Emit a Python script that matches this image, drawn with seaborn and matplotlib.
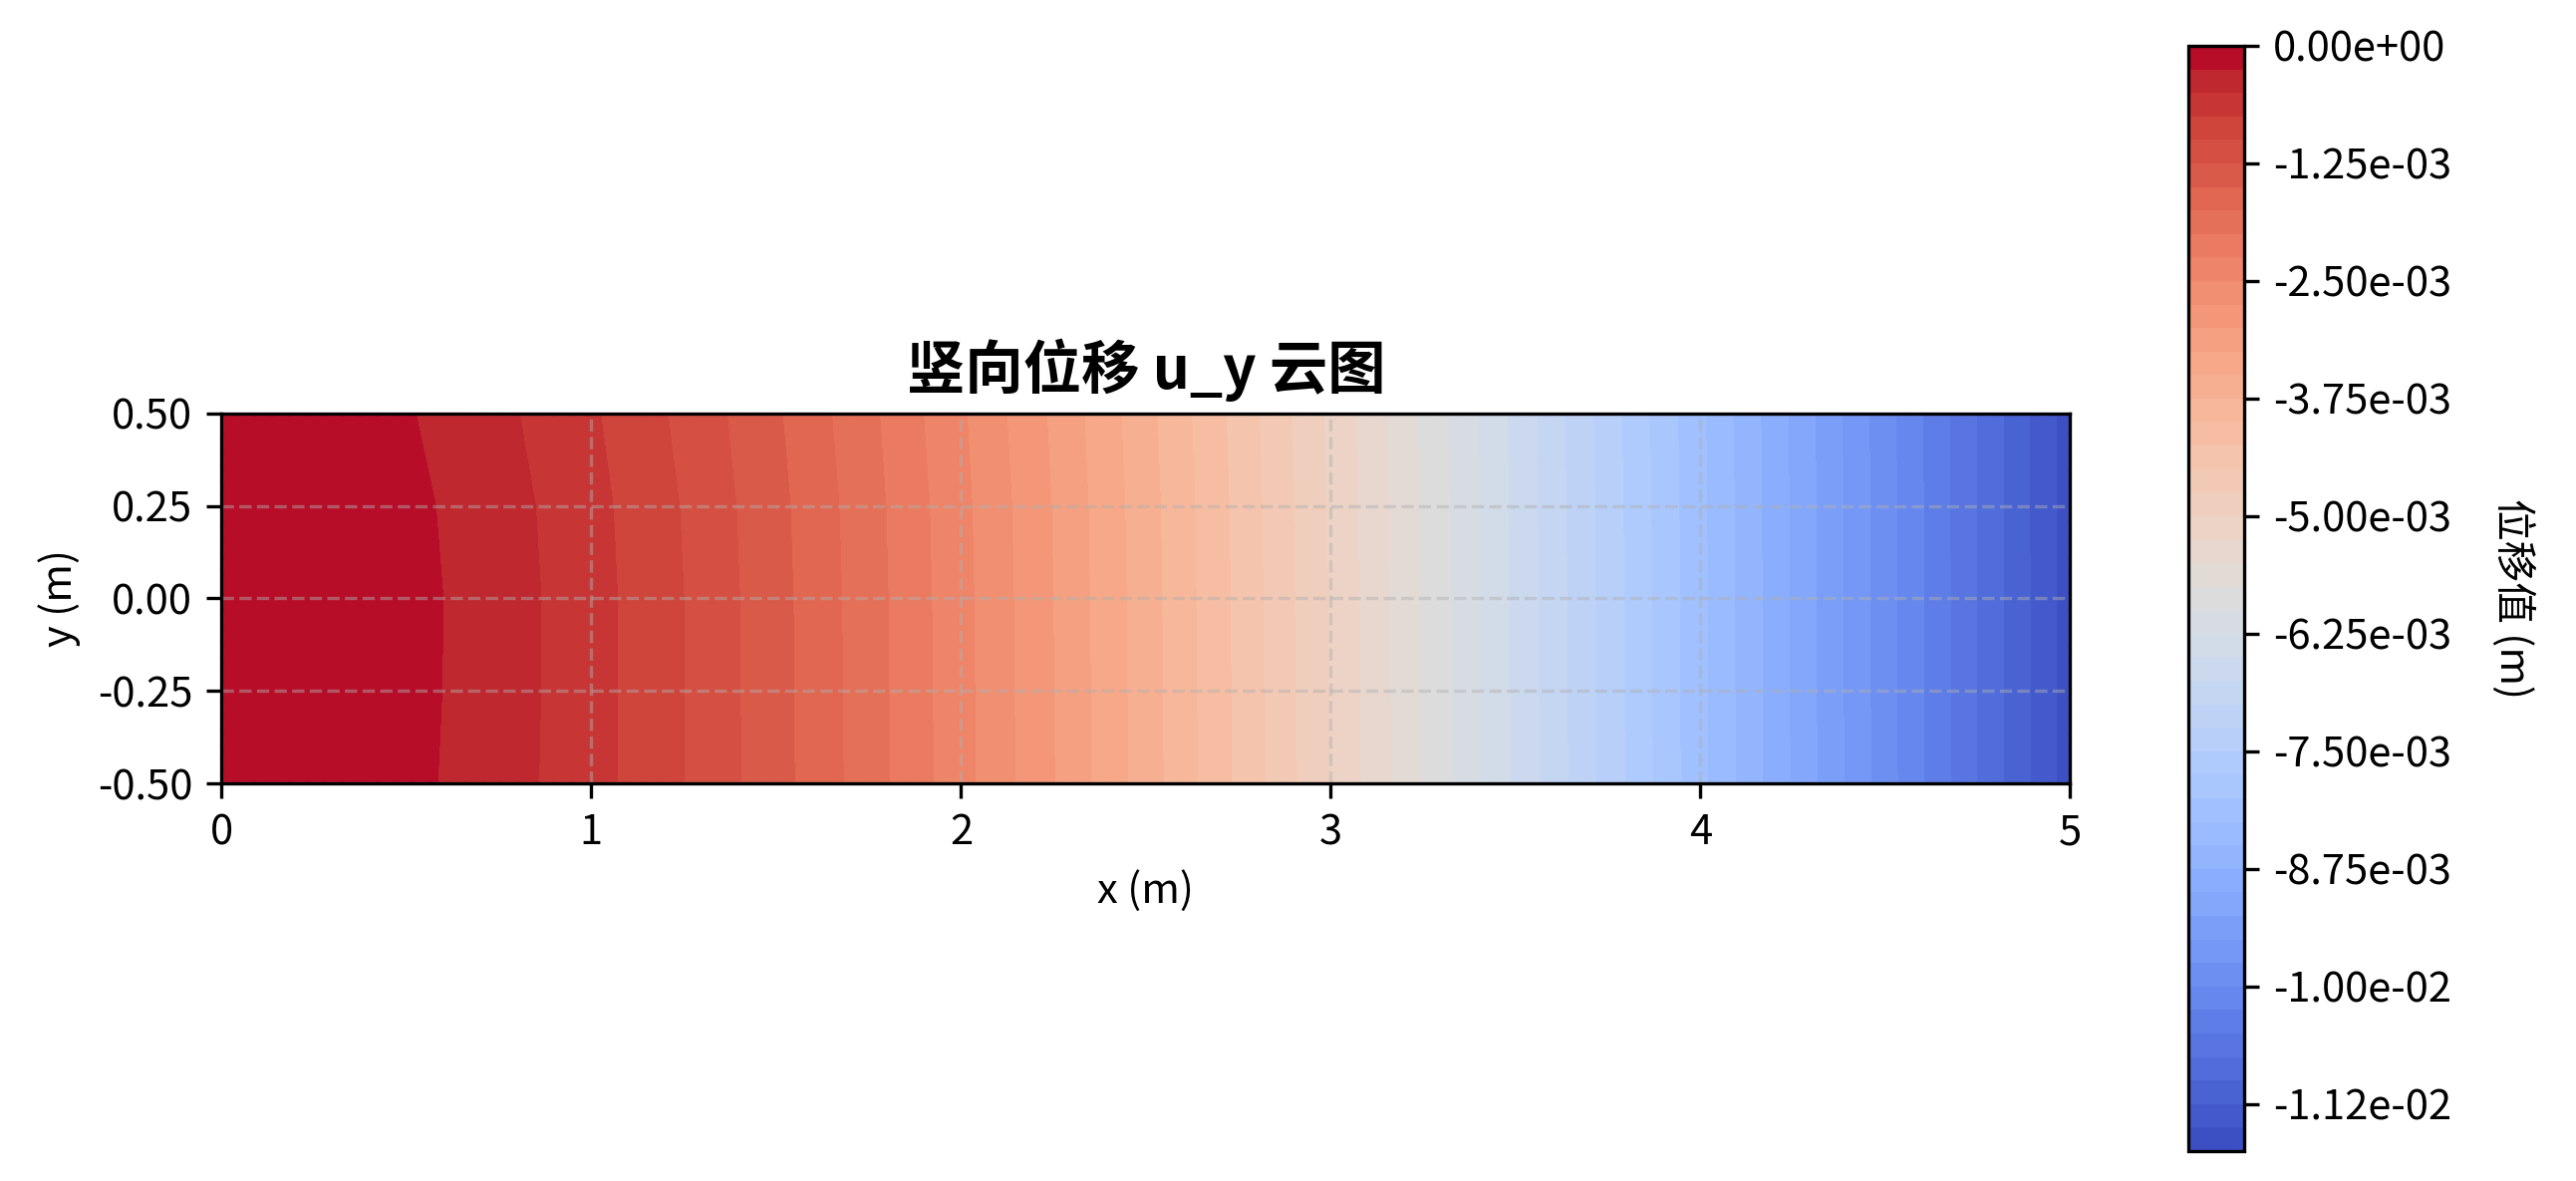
import numpy as np
import matplotlib
matplotlib.use('Agg')
import matplotlib.pyplot as plt
import seaborn as sns

# Sample points along the beam (m)
x_nodes = [0.0, 0.25, 0.5, 0.75, 1.0, 1.25, 1.5, 1.75, 2.0, 2.25, 2.5,
           2.75, 3.0, 3.25, 3.5, 3.75, 4.0, 4.25, 4.5, 4.75, 5.0]
y_nodes = [-0.5, -0.25, 0.0, 0.25, 0.5]

# Vertical displacement (mm), one row per y_nodes
uy_bottom = [0, -0.051, -0.182, -0.383, -0.655, -0.998, -1.407, -1.880, -2.409, -2.993, -3.624,
             -4.300, -5.014, -5.764, -6.546, -7.352, -8.182, -9.028, -9.887, -10.757, -11.630]
uy_lower = [0, -0.045, -0.172, -0.375, -0.651, -0.998, -1.410, -1.884, -2.414, -2.998, -3.629,
            -4.305, -5.019, -5.769, -6.550, -7.356, -8.185, -9.031, -9.889, -10.758, -11.630]
uy_center = [0, -0.043, -0.169, -0.373, -0.651, -1.000, -1.413, -1.888, -2.419, -3.003, -3.634,
             -4.310, -5.024, -5.774, -6.554, -7.360, -8.188, -9.033, -9.891, -10.759, -11.630]
uy_upper = [0, -0.053, -0.185, -0.390, -0.668, -1.016, -1.428, -1.901, -2.431, -3.013, -3.644,
            -4.318, -5.032, -5.781, -6.560, -7.365, -8.192, -9.036, -9.893, -10.760, -11.630]
uy_top = [0, -0.073, -0.229, -0.438, -0.716, -1.060, -1.468, -1.938, -2.464, -3.043, -3.669,
          -4.340, -5.054, -5.799, -6.574, -7.380, -8.203, -9.043, -9.901, -10.764, -11.630]

cbar_ticks = [0.0, -1.25e-3, -2.5e-3, -3.75e-3, -5.0e-3, -6.25e-3,
              -7.5e-3, -8.75e-3, -1.0e-2, -1.125e-2]

sns.set_style('ticks')
plt.rcParams['font.family'] = ['Noto Sans CJK SC', 'DejaVu Sans']
plt.rcParams['axes.unicode_minus'] = False
plt.rcParams['text.color'] = 'black'
plt.rcParams['axes.labelcolor'] = 'black'
plt.rcParams['xtick.color'] = 'black'
plt.rcParams['ytick.color'] = 'black'

X, Y = np.meshgrid(x_nodes, y_nodes)
U = np.array([uy_bottom, uy_lower, uy_center, uy_upper, uy_top]) * 1e-3

fig = plt.figure(figsize=(2585 / 300, 1185 / 300), dpi=300)
ax = fig.add_axes([0.0851, 0.3367, 0.7195, 0.3131])
cax = fig.add_axes([0.8494, 0.0253, 0.0217, 0.9359])

cs = ax.contourf(X, Y, U, levels=50, cmap='coolwarm')
ax.set_aspect('equal')
ax.set_xlim(0, 5)
ax.set_ylim(-0.5, 0.5)
ax.set_yticks([-0.5, -0.25, 0, 0.25, 0.5])
ax.set_title('竖向位移 u_y 云图', fontsize=14, fontweight='bold', pad=6)
ax.set_xlabel('x (m)', fontsize=10)
ax.set_ylabel('y (m)', fontsize=10)
ax.tick_params(labelsize=10, color='black', width=0.8, length=3.5)
ax.set_axisbelow('line')
ax.grid(True, linestyle='--', color='#b0b0b0', alpha=0.45, linewidth=0.8)
for sp in ax.spines.values():
    sp.set_color('black')
    sp.set_linewidth(0.8)
    sp.set_zorder(3)

cbar = fig.colorbar(cs, cax=cax, ticks=cbar_ticks, format='%.2e')
cbar.ax.tick_params(labelsize=10, color='black', width=0.8, length=3.5)
cbar.outline.set_edgecolor('black')
cbar.outline.set_linewidth(0.8)
cbar.set_label('位移值 (m)', rotation=270, labelpad=20, fontsize=10)

fig.savefig('out.png', dpi=300)
